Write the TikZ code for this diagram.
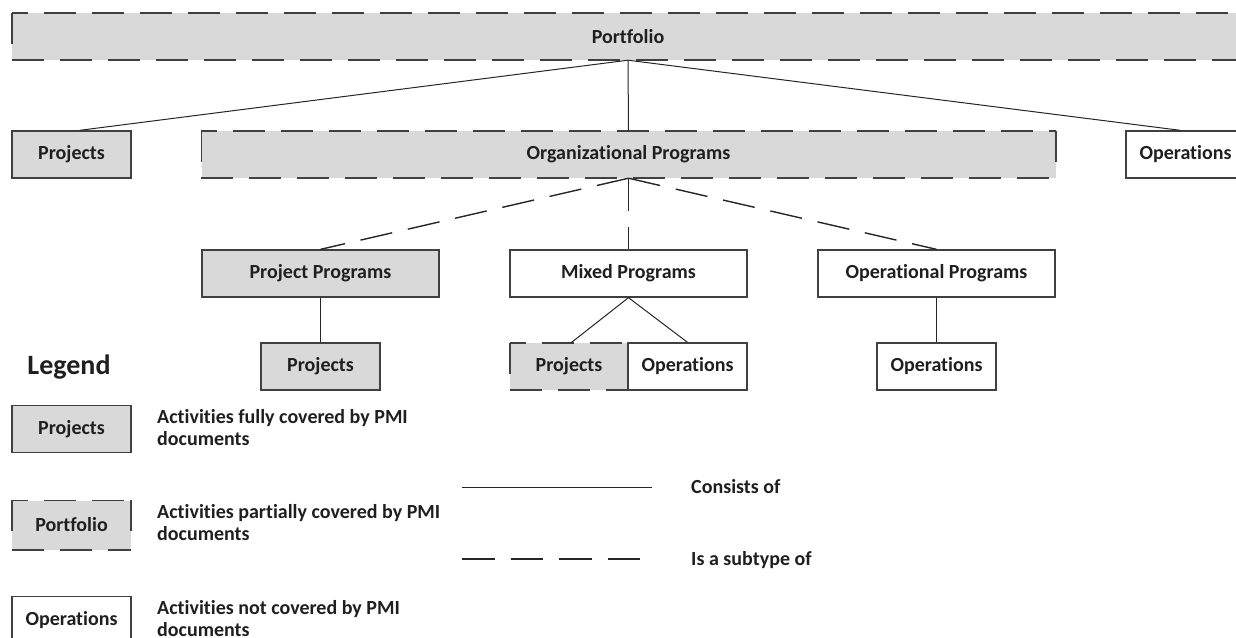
\documentclass[tikz,border=0pt]{standalone}
\usepackage{fontspec}
\setmainfont{Carlito}[Ligatures=NoCommon]
\usetikzlibrary{calc}
\definecolor{boxgray}{HTML}{D9D9D9}
\definecolor{edge}{HTML}{404040}
% dashed outline of a partially covered activity box
\newcommand\partialborder[1]{%
  \draw[bdash] (#1.south west) -- (#1.south east);
  \draw[bdash,dash phase=16pt] (#1.north west) -- (#1.north east);
  \draw[bside] (#1.north west) -- ($(#1.north west)+(0,31)$);
  \draw[bside] (#1.north east) -- ($(#1.north east)+(0,31)$);
}
\begin{document}
\begin{tikzpicture}[x=1pt,y=-1pt,
  every node/.style={font=\fontsize{20}{21.5}\selectfont\bfseries, text=black!88},
  box/.style={rectangle, inner sep=0pt, minimum height=47pt, draw=edge, line width=1.3pt},
  full/.style={box, fill=boxgray},
  none/.style={box, fill=white},
  partial/.style={rectangle, inner sep=0pt, minimum height=47pt, fill=boxgray},
  bdash/.style={draw=edge, line width=1.6pt, dash pattern=on 32pt off 16pt},
  bside/.style={draw=edge, line width=1.6pt},
  consist/.style={draw=black!85, line width=1pt},
  subtype/.style={draw=black!85, line width=1.4pt, dash pattern=on 32.5pt off 16pt},
  legtext/.style={anchor=base west, align=left, inner sep=0pt},
]
\useasboundingbox (0,0) rectangle (1236,637);

% hierarchy
\node[partial, minimum width=1232pt] (portfolio) at (628,36.5) {Portfolio};
\partialborder{portfolio}
\node[full, minimum width=119pt] (proj1) at (71.5,154.5) {Projects};
\node[partial, minimum width=854pt] (org) at (628.5,154.5) {Organizational Programs};
\partialborder{org}
\node[none, minimum width=119pt] (ops1) at (1185.5,154.5) {Operations};

\node[full, minimum width=237pt] (pp) at (320.5,273.5) {Project Programs};
\node[none, minimum width=237pt] (mp) at (628.5,273.5) {Mixed Programs};
\node[none, minimum width=237pt] (op) at (936.5,273.5) {Operational Programs};

\node[full, minimum width=119pt] (proj2) at (320.5,366.5) {Projects};
\node[partial, minimum width=118pt] (proj3) at (569,366.5) {Projects};
\partialborder{proj3}
\node[none, minimum width=119pt] (ops3) at (687.5,366.5) {Operations};
\node[none, minimum width=119pt] (ops4) at (936.5,366.5) {Operations};

% connectors
\draw[consist] (portfolio.south) -- (org.north);
\draw[consist] (portfolio.south) -- ([xshift=8pt]proj1.north);
\draw[consist] (portfolio.south) -- ([xshift=-5pt]ops1.north);
\draw[subtype] (org.south) -- (pp.north);
\draw[subtype] (org.south) -- (mp.north);
\draw[subtype] (org.south) -- (op.north);
\draw[consist] (pp.south) -- (proj2.north);
\draw[consist] (mp.south) -- ([xshift=2pt]proj3.north);
\draw[consist] (mp.south) -- (ops3.north);
\draw[consist] (op.south) -- (ops4.north);

% legend (multi-line texts are placed by the baseline of their last line)
\node[font=\fontsize{28}{32}\selectfont\bfseries] (legend) at (69,367) {Legend};
\node[full, minimum width=119pt] (lfull) at (71.5,429) {Projects};
\node[partial, minimum width=119pt, minimum height=49pt] (lpart) at (71.5,525) {Portfolio};
\partialborder{lpart}
\node[none, minimum width=119pt] (lnone) at (71.5,620) {Operations};
\node[legtext] (tfull) at (157,445) {Activities fully covered by PMI\\documents};
\node[legtext] (tpart) at (157,540) {Activities partially covered by PMI\\documents};
\node[legtext] (tnone) at (157,636) {Activities not covered by PMI\\documents};

\coordinate (ca) at (462,487);
\coordinate (cb) at (652,487);
\coordinate (sa) at (462,559);
\coordinate (sb) at (640,559);
\draw[consist] (ca) -- (cb);
\draw[subtype] (sa) -- (sb);
\node[legtext] (tcons) at (691,493) {Consists of};
\node[legtext] (tsub) at (691,565) {Is a subtype of};
\end{tikzpicture}
\end{document}
